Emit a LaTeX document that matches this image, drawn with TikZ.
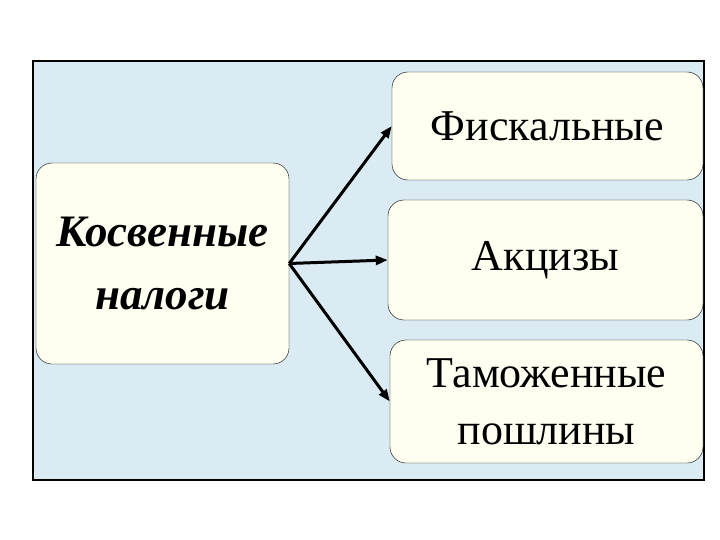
\documentclass[tikz,border=0pt]{standalone}
\usepackage{fontspec}
\setmainfont{Liberation Serif}
\usetikzlibrary{positioning, arrows.meta}
\definecolor{bgblue}{HTML}{DAEBF3}
\definecolor{boxcream}{HTML}{FEFFF0}
\tikzset{
  box/.style={thin, draw=black, fill=boxcream, rectangle, rounded corners=16pt, inner sep=4pt, align=center, font=\fontsize{44}{57}\selectfont},
  link/.style={draw=black, line width=3pt, -{Triangle[length=12pt, width=9pt]}}
}
\begin{document}
\begin{tikzpicture}[x=1pt, y=-1pt]
%PICTURE SCOPE
\useasboundingbox (0, 0) rectangle (720, 540);
\draw [draw=black, line width=1.2pt, fill=bgblue] (33, 61) rectangle (704, 480);
%SOURCE
\node (kos) [box, minimum width=253pt, minimum height=201pt, font=\fontsize{45}{63}\selectfont\bfseries\itshape] at (162.5, 263.5) {Косвенные\\налоги};
%%TARGETS
\node (fisk) [box, minimum width=311pt, minimum height=108pt] at (547.5, 126) {Фискальные};
\node (akc) [box, minimum width=315pt, minimum height=120pt] at (545.5, 260) {Акцизы};
\node (tam) [box, minimum width=313pt, minimum height=123pt] at (546.5, 401.5) {Таможенные\\пошлины};
%%CONNECTIONS
\draw [link] (kos.east) -- (fisk.west);
\draw [link] (kos.east) -- (akc.west);
\draw [link] (kos.east) -- (tam.west);
\end{tikzpicture}
\end{document}
